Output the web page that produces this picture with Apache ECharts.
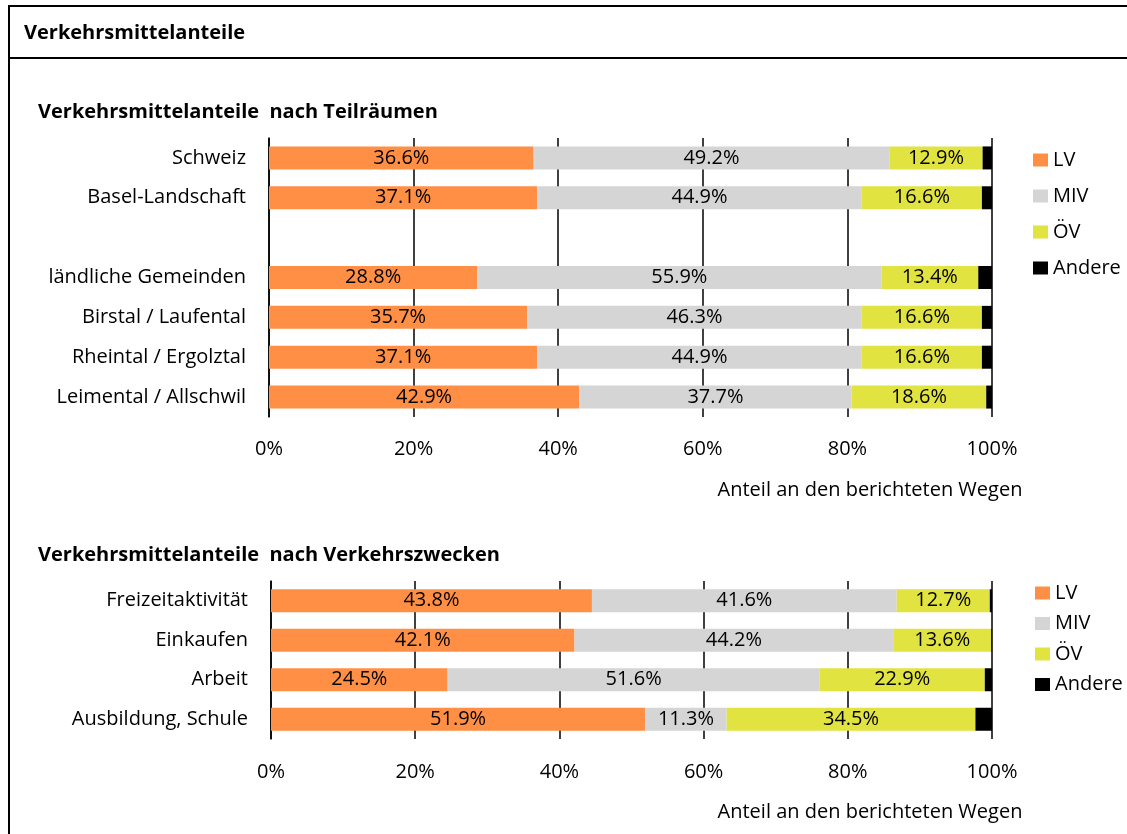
<!DOCTYPE html>
<html>
<head>
<meta charset="utf-8">
<script src="https://cdn.jsdelivr.net/npm/echarts@6/dist/echarts.min.js"></script>
<style>
html,body{margin:0;padding:0;background:#fff;}
#chart{width:1127px;height:834px;}
</style>
</head>
<body>
<div id="chart"></div>
<script>
// ---------- data ----------
const seriesNames = ['LV', 'MIV', 'ÖV', 'Andere'];
const xTicks = [0, 20, 40, 60, 80, 100];

const topCategories = ['Schweiz', 'Basel-Landschaft', '', 'ländliche Gemeinden', 'Birstal / Laufental', 'Rheintal / Ergolztal', 'Leimental / Allschwil'];
const topLV     = [36.6, 37.1, null, 28.8, 35.7, 37.1, 42.9];
const topMIV    = [49.2, 44.9, null, 55.9, 46.3, 44.9, 37.7];
const topOEV    = [12.9, 16.6, null, 13.4, 16.6, 16.6, 18.6];
const topAndere = [1.3, 1.4, null, 1.9, 1.4, 1.4, 0.8];

const botCategories = ['Freizeitaktivität', 'Einkaufen', 'Arbeit', 'Ausbildung, Schule'];
const botLV     = [43.8, 42.1, 24.5, 51.9];
const botMIV    = [41.6, 44.2, 51.6, 11.3];
const botOEV    = [12.7, 13.6, 22.9, 34.5];
const botAndere = [0.3, 0.1, 1.0, 2.3];

// ---------- styling ----------
const colors = ['#FF8F45', '#D5D5D5', '#E1E340', '#000000'];
const FONT = 'Open Sans';

// 100% stacking: normalise each row by its total, keep raw value for the label
function normalise(groups) {
  const n = groups[0].length;
  const totals = [];
  for (let i = 0; i < n; i++) {
    let s = 0, any = false;
    groups.forEach(g => { if (g[i] != null) { s += g[i]; any = true; } });
    totals.push(any ? s : null);
  }
  return groups.map(g => g.map((v, i) => v == null ? null : { value: v / totals[i] * 100, raw: v }));
}

const topData = normalise([topLV, topMIV, topOEV, topAndere]);
const botData = normalise([botLV, botMIV, botOEV, botAndere]);

function makeSeries(dataSets, axisIdx, stackId) {
  return dataSets.map((d, k) => ({
    name: seriesNames[k],
    type: 'bar',
    stack: stackId,
    xAxisIndex: axisIdx,
    yAxisIndex: axisIdx,
    barWidth: 23,
    data: d,
    itemStyle: { color: colors[k] },
    label: {
      show: k < 3,
      position: 'inside',
      color: '#000',
      fontFamily: FONT,
      fontSize: 20,
      formatter: p => p.data && p.data.raw != null ? p.data.raw.toFixed(1) + '%' : ''
    },
    emphasis: { disabled: true }
  }));
}

function xAxisCfg(gridIndex, margin) {
  return {
    type: 'value', gridIndex, min: 0, max: 100, interval: 20,
    axisLine: { show: false }, axisTick: { show: false },
    axisLabel: { formatter: '{value}%', color: '#000', fontFamily: FONT, fontSize: 20, margin },
    splitLine: { show: true, lineStyle: { color: '#000', width: 1.5 } }
  };
}
function yAxisCfg(gridIndex, cats) {
  return {
    type: 'category', gridIndex, data: cats, inverse: true,
    axisLine: { show: true, lineStyle: { color: '#000', width: 1.5 } },
    axisTick: { show: false },
    axisLabel: { color: '#000', fontFamily: FONT, fontSize: 20, margin: 23 }
  };
}

const chart = echarts.init(document.getElementById('chart'), null, { renderer: 'canvas' });
chart.setOption({
  animation: false,
  backgroundColor: '#fff',
  textStyle: { fontFamily: FONT },
  grid: [
    { left: 269, width: 723, top: 138, height: 279 },
    { left: 271, width: 721, top: 581, height: 158 }
  ],
  xAxis: [xAxisCfg(0, 22), xAxisCfg(1, 23)],
  yAxis: [yAxisCfg(0, topCategories), yAxisCfg(1, botCategories)],
  legend: [
    {
      orient: 'vertical', left: 1033, top: 150, padding: 0, itemWidth: 15, itemHeight: 13, itemGap: 16,
      icon: 'rect', data: seriesNames, selectedMode: false,
      textStyle: { color: '#000', fontFamily: FONT, fontSize: 20, lineHeight: 20 }
    },
    {
      orient: 'vertical', left: 1035, top: 583, padding: 0, itemWidth: 15, itemHeight: 13, itemGap: 10.5,
      icon: 'rect', data: seriesNames, selectedMode: false,
      textStyle: { color: '#000', fontFamily: FONT, fontSize: 20, lineHeight: 20 }
    }
  ],
  graphic: [
    { type: 'rect', shape: { x: 9, y: 6, width: 1200, height: 900 }, style: { fill: null, stroke: '#000', lineWidth: 2 }, z: 100 },
    { type: 'line', shape: { x1: 9, y1: 58, x2: 1200, y2: 58 }, style: { stroke: '#000', lineWidth: 2 }, z: 100 },
    { type: 'text', x: 24, y: 33, style: { text: 'Verkehrsmittelanteile', font: 'bold 20px "Open Sans"', fill: '#000', textVerticalAlign: 'middle' } },
    { type: 'text', x: 38, y: 112, style: { text: 'Verkehrsmittelanteile  nach Teilräumen', font: 'bold 20px "Open Sans"', fill: '#000', textVerticalAlign: 'middle' } },
    { type: 'text', x: 38, y: 555, style: { text: 'Verkehrsmittelanteile  nach Verkehrszwecken', font: 'bold 20px "Open Sans"', fill: '#000', textVerticalAlign: 'middle' } },
    { type: 'text', x: 870, y: 490, style: { text: 'Anteil an den berichteten Wegen', font: '20px "Open Sans"', fill: '#000', textAlign: 'center', textVerticalAlign: 'middle' } },
    { type: 'text', x: 870, y: 812, style: { text: 'Anteil an den berichteten Wegen', font: '20px "Open Sans"', fill: '#000', textAlign: 'center', textVerticalAlign: 'middle' } }
  ],
  series: [].concat(makeSeries(topData, 0, 'top'), makeSeries(botData, 1, 'bot'))
});
</script>
</body>
</html>
